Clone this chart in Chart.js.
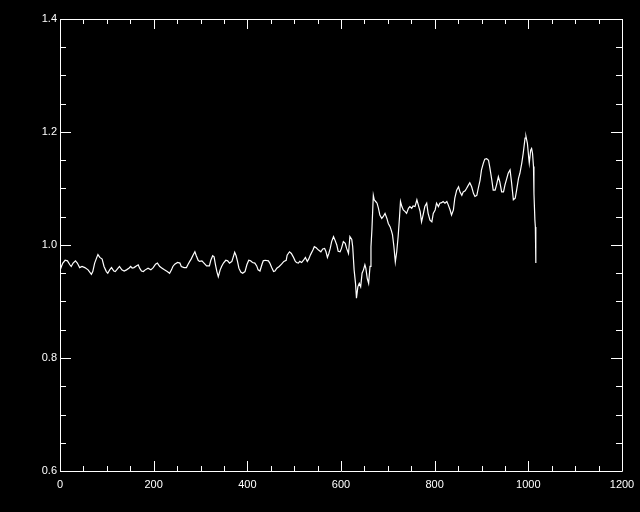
<!DOCTYPE html>
<html>
<head>
<meta charset="utf-8">
<script src="https://cdn.jsdelivr.net/npm/chart.js@4/dist/chart.umd.min.js"></script>
<style>
  html, body { margin: 0; padding: 0; background: #000; }
  #wrap { width: 640px; height: 512px; }
</style>
</head>
<body>
<div id="wrap"><canvas id="chart" width="640" height="512"></canvas></div>
<script>
// --- data ---
const xValues = [
    0, 3, 6, 11, 16, 21, 24, 28, 33, 37,
    42, 47, 53, 60, 67, 70, 74, 79, 81, 85,
    90, 94, 99, 102, 106, 110, 115, 118, 124, 127,
    132, 137, 142, 147, 151, 154, 158, 163, 167, 170,
    174, 178, 182, 188, 194, 199, 204, 208, 213, 218,
    223, 229, 234, 238, 241, 245, 251, 256, 259, 265,
    270, 273, 277, 280, 284, 288, 291, 295, 298, 303,
    313, 319, 322, 326, 329, 332, 335, 338, 342, 345,
    349, 354, 358, 362, 367, 370, 373, 376, 379, 382,
    386, 390, 395, 399, 403, 407, 411, 416, 420, 423,
    427, 431, 434, 438, 445, 448, 452, 456, 459, 463,
    468, 473, 478, 483, 485, 490, 494, 498, 502, 505,
    509, 512, 516, 520, 524, 528, 531, 535, 540, 543,
    547, 552, 557, 561, 565, 568, 571, 574, 577, 580,
    584, 587, 591, 594, 598, 601, 605, 609, 612, 616,
    619, 623, 625, 628, 631, 633, 636, 639, 642, 645,
    648, 651, 653, 656, 659, 662, 664, 666, 669, 671,
    674, 677, 680, 683, 687, 690, 694, 698, 701, 705,
    708, 710, 713, 716, 719, 722, 725, 727, 730, 733,
    737, 740, 744, 747, 751, 754, 758, 762, 765, 769,
    772, 776, 779, 783, 786, 790, 794, 797, 801, 804,
    808, 811, 815, 818, 822, 826, 829, 833, 836, 840,
    843, 847, 851, 854, 858, 861, 865, 868, 872, 875,
    879, 883, 886, 890, 893, 897, 900, 904, 907, 911,
    915, 918, 922, 925, 929, 932, 936, 939, 943, 947,
    950, 954, 957, 961, 964, 968, 972, 975, 979, 982,
    986, 989, 993, 995, 998, 1001, 1002, 1005, 1007, 1009,
    1011, 1012, 1014, 1015, 1016
];
const yValues = [
    0.955, 0.962, 0.968, 0.973, 0.972, 0.965, 0.962, 0.968, 0.972, 0.968,
    0.960, 0.962, 0.960, 0.956, 0.948, 0.953, 0.968, 0.979, 0.983, 0.978,
    0.975, 0.962, 0.953, 0.950, 0.956, 0.960, 0.954, 0.953, 0.959, 0.962,
    0.956, 0.954, 0.956, 0.959, 0.962, 0.959, 0.960, 0.963, 0.965, 0.959,
    0.954, 0.953, 0.956, 0.959, 0.956, 0.960, 0.966, 0.968, 0.962, 0.959,
    0.956, 0.953, 0.950, 0.956, 0.962, 0.966, 0.969, 0.968, 0.962, 0.960,
    0.960, 0.965, 0.971, 0.975, 0.982, 0.988, 0.981, 0.973, 0.971, 0.972,
    0.963, 0.963, 0.973, 0.981, 0.979, 0.965, 0.953, 0.944, 0.956, 0.962,
    0.968, 0.973, 0.972, 0.968, 0.971, 0.979, 0.987, 0.981, 0.971, 0.959,
    0.952, 0.950, 0.953, 0.965, 0.973, 0.972, 0.969, 0.968, 0.963, 0.956,
    0.954, 0.965, 0.972, 0.973, 0.972, 0.968, 0.960, 0.953, 0.954, 0.959,
    0.962, 0.966, 0.971, 0.973, 0.982, 0.988, 0.985, 0.979, 0.972, 0.969,
    0.968, 0.971, 0.969, 0.973, 0.978, 0.971, 0.975, 0.983, 0.991, 0.997,
    0.995, 0.991, 0.988, 0.993, 0.994, 0.988, 0.978, 0.985, 0.994, 1.006,
    1.015, 1.009, 1.000, 0.989, 0.988, 0.994, 1.006, 1.003, 0.994, 0.985,
    1.015, 1.010, 0.997, 0.956, 0.932, 0.906, 0.926, 0.932, 0.926, 0.950,
    0.956, 0.965, 0.959, 0.941, 0.932, 0.962, 0.997, 1.027, 1.088, 1.080,
    1.077, 1.074, 1.065, 1.053, 1.047, 1.050, 1.056, 1.047, 1.038, 1.032,
    1.024, 1.018, 0.997, 0.970, 0.988, 1.015, 1.050, 1.077, 1.068, 1.062,
    1.059, 1.056, 1.065, 1.068, 1.065, 1.069, 1.068, 1.080, 1.071, 1.059,
    1.041, 1.056, 1.068, 1.074, 1.056, 1.044, 1.041, 1.056, 1.062, 1.074,
    1.068, 1.074, 1.075, 1.077, 1.074, 1.077, 1.071, 1.062, 1.053, 1.062,
    1.083, 1.097, 1.103, 1.094, 1.088, 1.094, 1.096, 1.100, 1.106, 1.110,
    1.103, 1.091, 1.086, 1.088, 1.100, 1.115, 1.133, 1.145, 1.152, 1.153,
    1.150, 1.136, 1.115, 1.097, 1.097, 1.106, 1.121, 1.112, 1.094, 1.094,
    1.106, 1.118, 1.127, 1.133, 1.112, 1.080, 1.083, 1.097, 1.118, 1.127,
    1.145, 1.162, 1.189, 1.192, 1.180, 1.153, 1.145, 1.168, 1.171, 1.162,
    1.139, 1.091, 1.044, 1.032, 0.968
];
const xRange = [0, 1200];
const yRange = [0.6, 1.4];
const xMajor = 200, xMinor = 50;
const yMajor = 0.2, yMinor = 0.05;

const FG = '#ffffff';

// black page behind the plot
const bgPlugin = {
    id: 'bg',
    beforeDraw(chart) {
        const ctx = chart.ctx;
        ctx.save();
        ctx.fillStyle = '#000';
        ctx.fillRect(0, 0, chart.width, chart.height);
        ctx.restore();
    }
};

// box round the plot with inward ticks on all four sides
const frameTicks = {
    id: 'frameTicks',
    afterDraw(chart) {
        const ctx = chart.ctx;
        const { left, right, top, bottom } = chart.chartArea;
        const xs = chart.scales.x, ys = chart.scales.y;
        ctx.save();
        ctx.strokeStyle = FG;
        ctx.lineWidth = 1;
        ctx.beginPath();
        ctx.rect(left + 0.5, top + 0.5, right - left, bottom - top);

        const nx = Math.round((xRange[1] - xRange[0]) / xMinor);
        const perX = Math.round(xMajor / xMinor);
        for (let i = 0; i <= nx; i++) {
            const px = Math.round(xs.getPixelForValue(xRange[0] + i * xMinor)) + 0.5;
            const len = i % perX === 0 ? 10 : 5;
            ctx.moveTo(px, bottom); ctx.lineTo(px, bottom - len);
            ctx.moveTo(px, top); ctx.lineTo(px, top + len);
        }
        const ny = Math.round((yRange[1] - yRange[0]) / yMinor);
        const perY = Math.round(yMajor / yMinor);
        for (let i = 0; i <= ny; i++) {
            const py = Math.round(ys.getPixelForValue(yRange[0] + i * yMinor)) + 0.5;
            const len = i % perY === 0 ? 11 : 6;
            ctx.moveTo(left, py); ctx.lineTo(left + len, py);
            ctx.moveTo(right, py); ctx.lineTo(right - len, py);
        }
        ctx.stroke();
        ctx.restore();
    }
};

const points = xValues.map((x, i) => ({ x: x, y: yValues[i] }));

new Chart(document.getElementById('chart'), {
    type: 'line',
    data: {
        datasets: [{
            data: points,
            borderColor: FG,
            borderWidth: 1.2,
            pointRadius: 0,
            tension: 0,
            fill: false
        }]
    },
    options: {
        responsive: false,
        animation: false,
        events: [],
        layout: { padding: { top: 19, right: 18, left: 0, bottom: 0 } },
        plugins: {
            legend: { display: false },
            tooltip: { enabled: false }
        },
        scales: {
            x: {
                type: 'linear',
                min: xRange[0],
                max: xRange[1],
                grid: { display: false, drawTicks: false },
                border: { display: false },
                ticks: {
                    stepSize: xMajor,
                    color: FG,
                    padding: 7,
                    maxRotation: 0,
                    font: { family: 'Liberation Sans', size: 11 },
                    callback: v => String(v)
                },
                afterFit(s) { s.height = 41; s.paddingLeft = 0; s.paddingRight = 0; }
            },
            y: {
                type: 'linear',
                min: yRange[0],
                max: yRange[1],
                grid: { display: false, drawTicks: false },
                border: { display: false },
                ticks: {
                    stepSize: yMajor,
                    color: FG,
                    padding: 3,
                    font: { family: 'Liberation Sans', size: 11 },
                    callback: v => v.toFixed(1)
                },
                afterFit(s) { s.width = 60; s.paddingTop = 0; s.paddingBottom = 0; }
            }
        }
    },
    plugins: [bgPlugin, frameTicks]
});
</script>
</body>
</html>
